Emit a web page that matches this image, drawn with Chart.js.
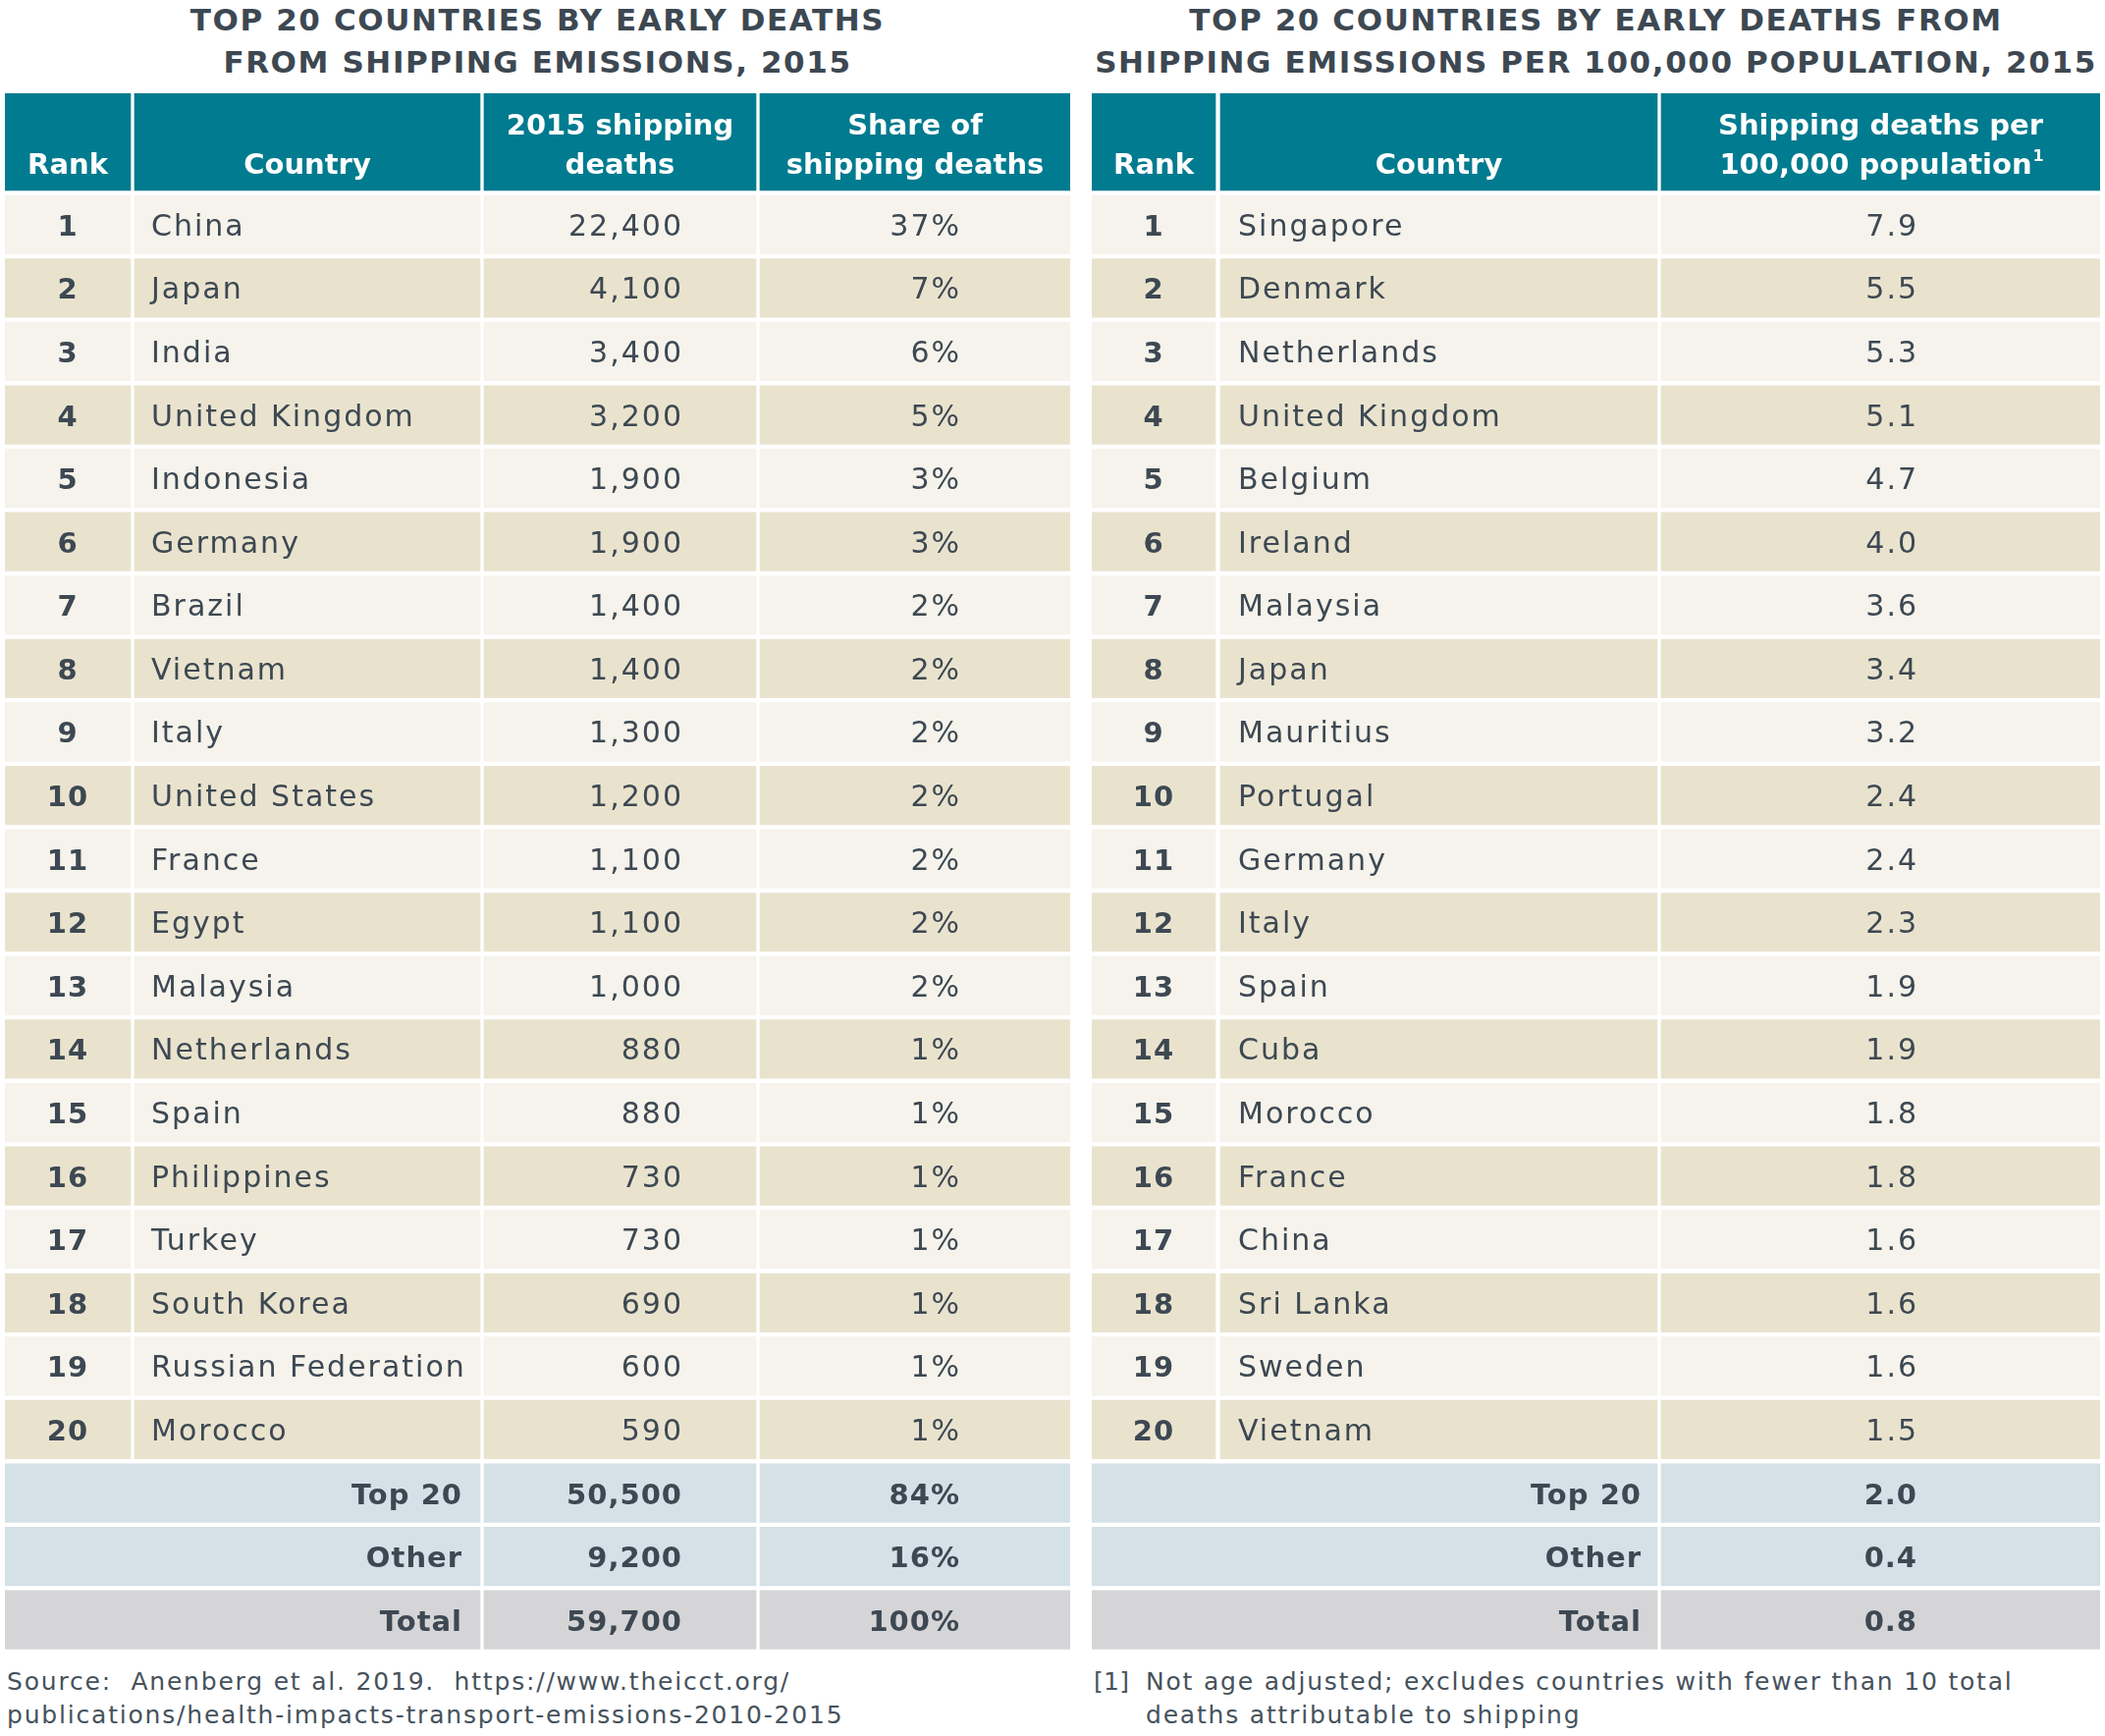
<!DOCTYPE html>
<html>
<head>
<meta charset="utf-8">
<script src="https://cdn.jsdelivr.net/npm/chart.js@4.4.1/dist/chart.umd.min.js"></script>
<style>
  html, body { margin: 0; padding: 0; background: #fff; }
  body { width: 2144px; height: 1768px; position: relative; overflow: hidden; color: #3d4852; }
  .title { position: absolute; top: -1px; font-family: "DejaVu Sans", sans-serif; font-weight: 700;
           font-size: 31px; line-height: 43px; text-align: center; letter-spacing: 1.6px; color: #3d4852; }
  .foot { position: absolute; font-family: "DejaVu Sans", sans-serif; font-size: 25px; line-height: 34px;
          letter-spacing: 1.8px; color: #46525c; }
  canvas { position: absolute; }
</style>
</head>
<body>
<div class="title" style="left:5px;width:1085px;">TOP 20 COUNTRIES BY EARLY DEATHS<br>FROM SHIPPING EMISSIONS, 2015</div>
<div class="title" style="left:1112px;width:1027px;">TOP 20 COUNTRIES BY EARLY DEATHS FROM<br>SHIPPING EMISSIONS PER 100,000 POPULATION, 2015</div>
<canvas id="leftTable" width="1085" height="1587" style="left:5px;top:95px;"></canvas>
<canvas id="rightTable" width="1027" height="1587" style="left:1112px;top:95px;"></canvas>
<div class="foot" style="left:7px;top:1696px;">Source:&nbsp; Anenberg et al. 2019.&nbsp; https://www.theicct.org/<br>publications/health-impacts-transport-emissions-2010-2015</div>
<div class="foot" style="left:1114px;top:1696px;letter-spacing:0.3px;">[1]</div>
<div class="foot" style="left:1167px;top:1696px;">Not age adjusted; excludes countries with fewer than 10 total<br>deaths attributable to shipping</div>
<script>
// --- data ---
const ranks = [1, 2, 3, 4, 5, 6, 7, 8, 9, 10, 11, 12, 13, 14, 15, 16, 17, 18, 19, 20];
const shipCountries = ["China", "Japan", "India", "United Kingdom", "Indonesia", "Germany", "Brazil", "Vietnam",
  "Italy", "United States", "France", "Egypt", "Malaysia", "Netherlands", "Spain", "Philippines", "Turkey",
  "South Korea", "Russian Federation", "Morocco"];
const shipDeaths = [22400, 4100, 3400, 3200, 1900, 1900, 1400, 1400, 1300, 1200, 1100, 1100, 1000, 880, 880, 730, 730, 690, 600, 590];
const shipShare = [37, 7, 6, 5, 3, 3, 2, 2, 2, 2, 2, 2, 2, 1, 1, 1, 1, 1, 1, 1];
const summaryLabels = ["Top 20", "Other", "Total"];
const shipSummaryDeaths = [50500, 9200, 59700];
const shipSummaryShare = [84, 16, 100];
const rateCountries = ["Singapore", "Denmark", "Netherlands", "United Kingdom", "Belgium", "Ireland", "Malaysia", "Japan",
  "Mauritius", "Portugal", "Germany", "Italy", "Spain", "Cuba", "Morocco", "France", "China", "Sri Lanka", "Sweden", "Vietnam"];
const rateValues = [7.9, 5.5, 5.3, 5.1, 4.7, 4.0, 3.6, 3.4, 3.2, 2.4, 2.4, 2.3, 1.9, 1.9, 1.8, 1.8, 1.6, 1.6, 1.6, 1.5];
const rateSummary = [2.0, 0.4, 0.8];
const shipHeaders = [["Rank"], ["Country"], ["2015 shipping", "deaths"], ["Share of", "shipping deaths"]];
const rateHeaders = [["Rank"], ["Country"], ["Shipping deaths per", "100,000 population"]];

// --- layout ---
const CH = 1587, HEAD_H = 99, GAP = 5;
const P = (CH - HEAD_H - GAP / 2) / 23;
const yMin = -0.5 - (HEAD_H + GAP / 2) / P;
const headerCenter = yMin + HEAD_H / (2 * P);
const headerBottom = yMin + HEAD_H / P;

const TEAL = "#007b8f", LIGHT = "#f5f3eb", TAN = "#e9e3ce", BLUE = "#d4e1e7", GRAY = "#d5d5d7";
const TEXT = "#3d4852";
const BODY_FONT = '400 30px "DejaVu Sans", sans-serif';
const BOLD_FONT = '700 29px "DejaVu Sans", sans-serif';
const HEAD_FONT = '700 29px "DejaVu Sans", sans-serif';

function rowColor(i) {
  if (i < 20) return i % 2 === 0 ? LIGHT : TAN;
  return i < 22 ? BLUE : GRAY;
}

function fmtInt(v) { return v.toLocaleString("en-US"); }

function buildDatasets(cols) {
  const sets = [];
  cols.forEach((c, j) => {
    const data = [], colors = [];
    for (let i = 0; i < 23; i++) {
      if (i >= 20 && j === 1) continue;
      const x1 = (i >= 20 && j === 0) ? cols[1].x1 : c.x1;
      data.push({ x: [c.x0, x1], y: i });
      colors.push(rowColor(i));
    }
    sets.push({ data, backgroundColor: colors, barThickness: P - GAP, grouped: false, borderWidth: 0, clip: false });
  });
  sets.push({
    data: cols.map(c => ({ x: [c.x0, c.x1], y: headerCenter })),
    backgroundColor: TEAL, barThickness: HEAD_H, grouped: false, borderWidth: 0, clip: false
  });
  return sets;
}

function textPlugin(cols, headers, cellsFor) {
  return {
    id: "tableText",
    afterDatasetsDraw(chart) {
      const { ctx, scales: { x, y } } = chart;
      ctx.save();
      // header
      ctx.fillStyle = "#ffffff";
      ctx.font = HEAD_FONT;
      ctx.letterSpacing = "0px";
      ctx.textAlign = "center";
      ctx.textBaseline = "alphabetic";
      const base2 = y.getPixelForValue(headerBottom) - 17;
      headers.forEach((lines, j) => {
        const cx = x.getPixelForValue((cols[j].x0 + cols[j].x1) / 2);
        lines.forEach((ln, k) => {
          const by = base2 - (lines.length - 1 - k) * 40;
          if (ln === "100,000 population") {
            const w = ctx.measureText(ln).width;
            ctx.fillText(ln, cx - 5, by);
            ctx.font = '700 16px "DejaVu Sans", sans-serif';
            ctx.textAlign = "left";
            ctx.fillText("1", cx - 5 + w / 2 + 1, by - 13);
            ctx.font = HEAD_FONT;
            ctx.textAlign = "center";
          } else {
            ctx.fillText(ln, cx, by);
          }
        });
      });
      // body
      ctx.fillStyle = TEXT;
      for (let i = 0; i < 23; i++) {
        const by = y.getPixelForValue(i) + 11;
        cellsFor(i).forEach(c => {
          ctx.font = c.bold ? BOLD_FONT : BODY_FONT;
          ctx.letterSpacing = c.bold ? "1px" : "2px";
          ctx.textAlign = c.align;
          ctx.fillText(c.t, x.getPixelForValue(c.at), by);
        });
      }
      ctx.restore();
    }
  };
}

function makeTable(id, width, cols, headers, cellsFor) {
  return new Chart(document.getElementById(id), {
    type: "bar",
    data: { datasets: buildDatasets(cols) },
    options: {
      indexAxis: "y",
      responsive: false,
      animation: false,
      events: [],
      layout: { padding: 0, autoPadding: false },
      scales: {
        x: { type: "linear", display: false, offset: false, bounds: "data", grace: 0, min: 0, max: width },
        y: { type: "linear", display: false, offset: false, bounds: "data", grace: 0, reverse: true,
             min: yMin, max: 22.5, grid: { offset: false } }
      },
      plugins: { legend: { display: false }, tooltip: { enabled: false } }
    },
    plugins: [textPlugin(cols, headers, cellsFor)]
  });
}

const shipCols = [{ x0: 0, x1: 128 }, { x0: 132, x1: 484 }, { x0: 488, x1: 765 }, { x0: 769, x1: 1085 }];
makeTable("leftTable", 1085, shipCols, shipHeaders, i => {
  if (i < 20) return [
    { t: String(ranks[i]), at: 64, align: "center", bold: true },
    { t: shipCountries[i], at: 149, align: "left" },
    { t: fmtInt(shipDeaths[i]), at: 691, align: "right" },
    { t: shipShare[i] + "%", at: 974, align: "right" }
  ];
  const k = i - 20;
  return [
    { t: summaryLabels[k], at: 466, align: "right", bold: true },
    { t: fmtInt(shipSummaryDeaths[k]), at: 690, align: "right", bold: true },
    { t: shipSummaryShare[k] + "%", at: 973, align: "right", bold: true }
  ];
});

const rateCols = [{ x0: 0, x1: 126 }, { x0: 131, x1: 576 }, { x0: 580, x1: 1027 }];
makeTable("rightTable", 1027, rateCols, rateHeaders, i => {
  if (i < 20) return [
    { t: String(ranks[i]), at: 63, align: "center", bold: true },
    { t: rateCountries[i], at: 149, align: "left" },
    { t: rateValues[i].toFixed(1), at: 842, align: "right" }
  ];
  const k = i - 20;
  return [
    { t: summaryLabels[k], at: 560, align: "right", bold: true },
    { t: rateSummary[k].toFixed(1), at: 841, align: "right", bold: true }
  ];
});
</script>
</body>
</html>
